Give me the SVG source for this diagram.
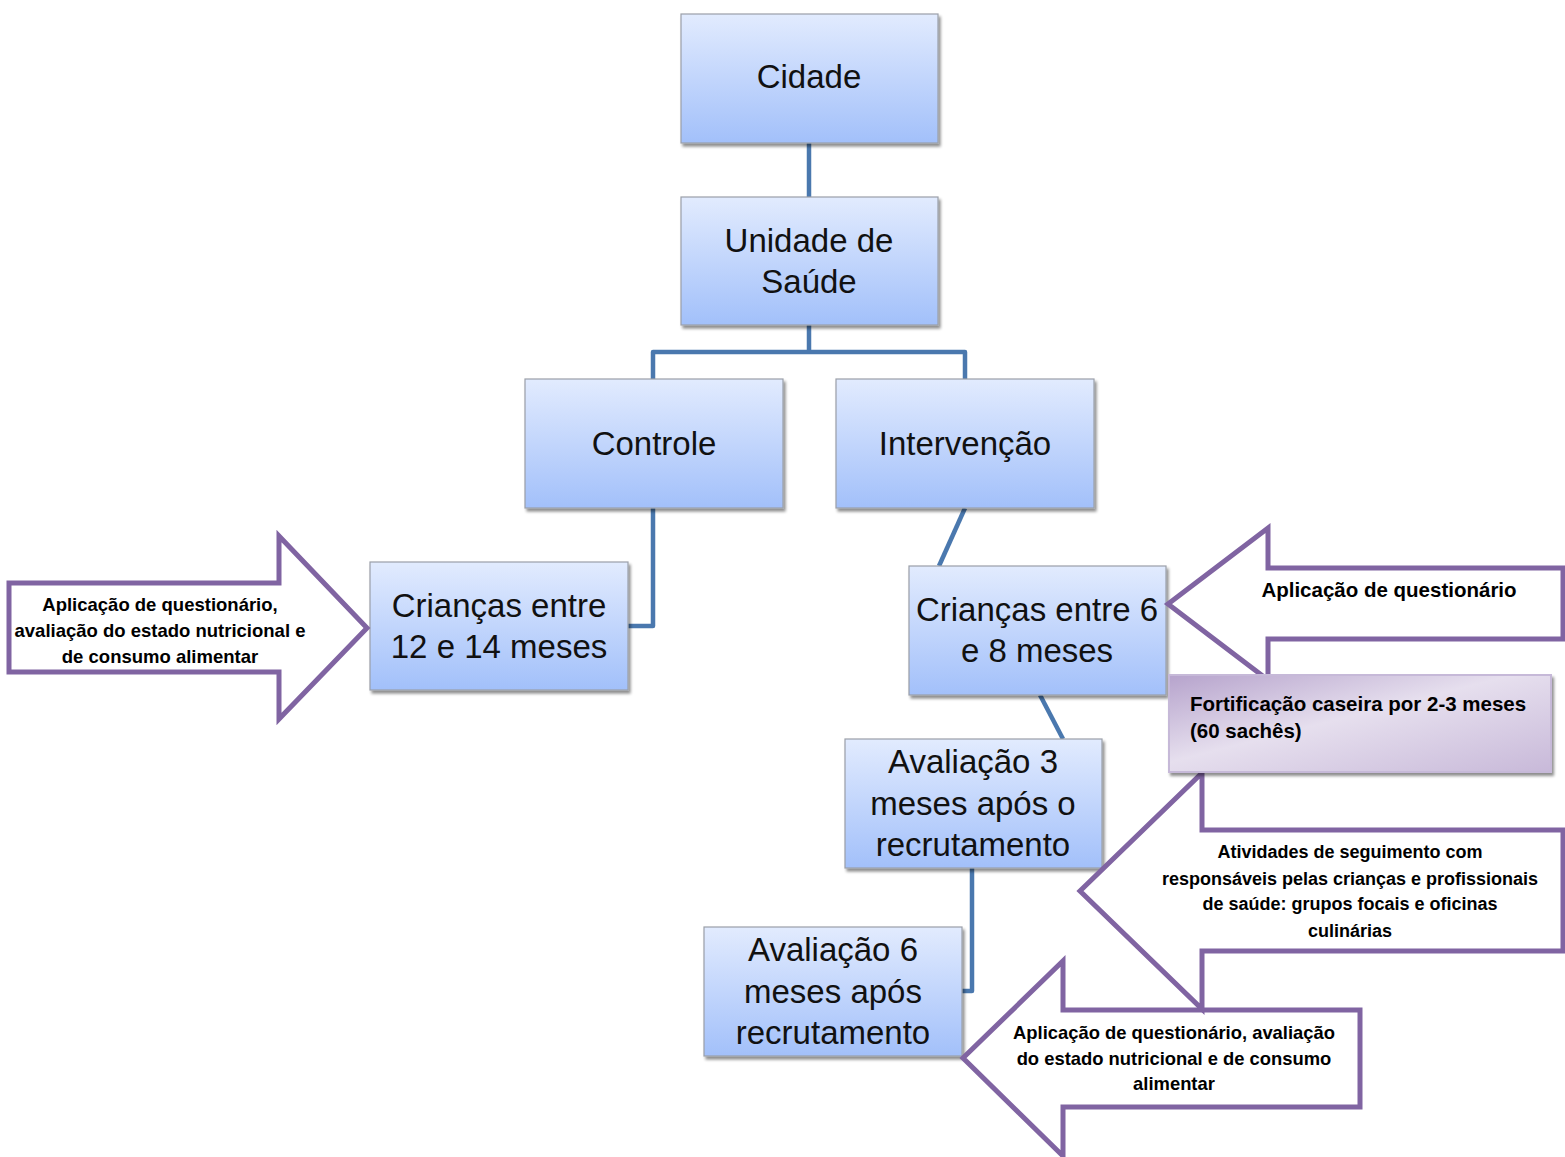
<svg xmlns="http://www.w3.org/2000/svg" width="1565" height="1157" viewBox="0 0 1565 1157">
<defs>
<linearGradient id="gBlue" x1="0" y1="0" x2="0" y2="1">
<stop offset="0" stop-color="#e2ebfe"/>
<stop offset="1" stop-color="#a2c0fa"/>
</linearGradient>
<linearGradient id="gPurple" x1="0" y1="0" x2="1" y2="1">
<stop offset="0" stop-color="#b6a3cc"/>
<stop offset="0.45" stop-color="#e6dfee"/>
<stop offset="1" stop-color="#c8b9d9"/>
</linearGradient>
<filter id="sh" x="-10%" y="-10%" width="125%" height="130%">
<feGaussianBlur in="SourceAlpha" stdDeviation="1.5"/>
<feOffset dx="2" dy="3" result="b"/>
<feComponentTransfer><feFuncA type="linear" slope="0.45"/></feComponentTransfer>
<feMerge><feMergeNode/><feMergeNode in="SourceGraphic"/></feMerge>
</filter>
</defs>
<style>
.box{fill:url(#gBlue);stroke:#9a9fa8;stroke-width:1.2;filter:url(#sh)}
.bt{font-family:"Liberation Sans",Arial,sans-serif;font-size:33px;fill:#111;text-anchor:middle}
.con{fill:none;stroke:#4a78ae;stroke-width:4.5;stroke-linejoin:round}
.arr{fill:#fff;stroke:#8064a2;stroke-width:5;stroke-linejoin:miter}
.at{font-family:"Liberation Sans",Arial,sans-serif;font-weight:bold;fill:#000;text-anchor:middle}
.al{text-anchor:start}
</style>
<g id="connectors">
<path class="con" d="M809,143 V197"/>
<path class="con" d="M809,325 V352 M653,379 V352 H965 V379"/>
<path class="con" d="M653,508 V626 H628"/>
<path class="con" d="M965,508 L939,566"/>
<path class="con" d="M1040,695 L1063,739"/>
<path class="con" d="M972,868 V991 H962"/>
</g>
<g id="n-cidade"><rect class="box" x="681" y="14" width="257" height="129"/><text class="bt" x="809" y="88">Cidade</text></g>
<g id="n-unidade"><rect class="box" x="681" y="197" width="257" height="128"/><text class="bt" x="809" y="252">Unidade de</text><text class="bt" x="809" y="293">Saúde</text></g>
<g id="n-controle"><rect class="box" x="525" y="379" width="258" height="129"/><text class="bt" x="654" y="455">Controle</text></g>
<g id="n-intervencao"><rect class="box" x="836" y="379" width="258" height="129"/><text class="bt" x="965" y="455">Intervenção</text></g>
<g id="n-criancas12"><rect class="box" x="370" y="562" width="258" height="128"/><text class="bt" x="499" y="617">Crianças entre</text><text class="bt" x="499" y="658">12 e 14 meses</text></g>
<g id="n-criancas6"><rect class="box" x="909" y="566" width="257" height="129"/><text class="bt" x="1037" y="621">Crianças entre 6</text><text class="bt" x="1037" y="662">e 8 meses</text></g>
<g id="n-aval3"><rect class="box" x="845" y="739" width="257" height="129"/><text class="bt" x="973" y="773">Avaliação 3</text><text class="bt" x="973" y="815">meses após o</text><text class="bt" x="973" y="856">recrutamento</text></g>
<g id="n-aval6"><rect class="box" x="704" y="927" width="258" height="129"/><text class="bt" x="833" y="961">Avaliação 6</text><text class="bt" x="833" y="1003">meses após</text><text class="bt" x="833" y="1044">recrutamento</text></g>
<g id="a-left">
<polygon class="arr" points="9,583 279,583 279,536 367,628 279,719 279,672 9,672"/>
<text class="at" font-size="18.5" x="160" y="611">Aplicação de questionário,</text>
<text class="at" font-size="18.5" x="160" y="637">avaliação do estado nutricional e</text>
<text class="at" font-size="18.5" x="160" y="663">de consumo alimentar</text>
</g>
<g id="a-bottom">
<polygon class="arr" points="1360,1010 1063,1010 1063,961 963,1058 1063,1156 1063,1107 1360,1107"/>
<text class="at" font-size="18.4" x="1174" y="1039">Aplicação de questionário, avaliação</text>
<text class="at" font-size="18.4" x="1174" y="1065">do estado nutricional e de consumo</text>
<text class="at" font-size="18.4" x="1174" y="1090">alimentar</text>
</g>
<g id="a-atividades">
<polygon class="arr" points="1563,830 1202,830 1202,773 1080,891 1202,1009 1202,951 1563,951"/>
<text class="at" font-size="18" x="1350" y="858">Atividades de seguimento com</text>
<text class="at" font-size="18" x="1350" y="885">responsáveis pelas crianças e profissionais</text>
<text class="at" font-size="18" x="1350" y="910">de saúde: grupos focais e oficinas</text>
<text class="at" font-size="18" x="1350" y="937">culinárias</text>
</g>
<g id="a-top">
<polygon class="arr" points="1563,568 1268,568 1268,528 1168,604 1268,680 1268,639 1563,639"/>
<text class="at" font-size="20.5" x="1389" y="597">Aplicação de questionário</text>
</g>
<g id="n-fortificacao">
<rect x="1169" y="675" width="382" height="97" fill="url(#gPurple)" stroke="#c6b9d8" stroke-width="2" filter="url(#sh)"/>
<text class="at al" font-size="20.5" x="1190" y="711">Fortificação caseira por 2-3 meses</text>
<text class="at al" font-size="20.5" x="1190" y="738">(60 sachês)</text>
</g>
</svg>
